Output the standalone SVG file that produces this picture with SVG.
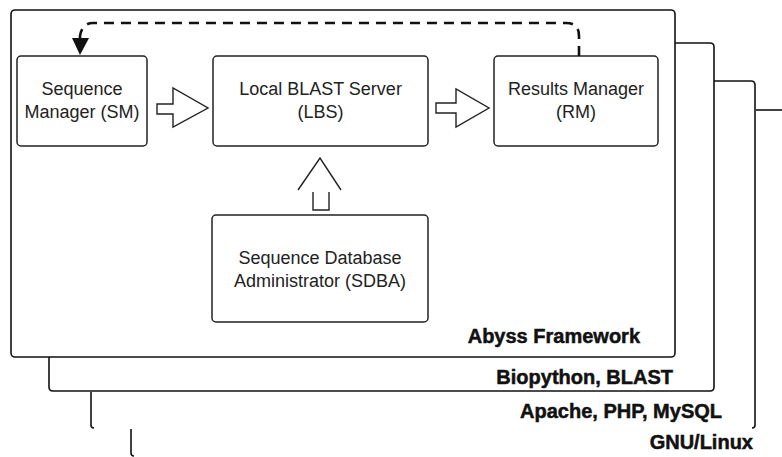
<svg xmlns="http://www.w3.org/2000/svg" width="782" height="457" viewBox="0 0 782 457">
<style>
.frame{fill:#fff;stroke:#111;stroke-width:1.6}
.edge{fill:none;stroke:#111;stroke-width:1.6}
.box{fill:#fff;stroke:#222;stroke-width:1.5}
.lbl{font-family:"Liberation Sans",Arial,sans-serif;font-size:18px;fill:#222;text-anchor:middle}
.layer{font-family:"Liberation Sans",Arial,sans-serif;font-size:20px;font-weight:bold;fill:#111;stroke:#111;stroke-width:0.5;text-anchor:end}
.blk{fill:#fff;stroke:#222;stroke-width:1.4;stroke-linejoin:miter}
.dash{fill:none;stroke:#111;stroke-width:2.6;stroke-dasharray:10 7}
.head{fill:#111}
</style>
<g id="layer-gnu-linux">
<path class="edge" d="M131,429 V453 q0,3 3,3"/>
<path class="edge" d="M756,110 H782"/>
<text class="layer" x="753" y="449">GNU/Linux</text>
</g>
<g id="layer-apache">
<path class="edge" d="M91,392 V425 q0,3 3,3"/>
<path class="edge" d="M714,81 H751 q4,0 4,4 V425 q0,3 -3,3"/>
<text class="layer" x="722" y="418">Apache, PHP, MySQL</text>
</g>
<g id="layer-biopython">
<path class="frame" d="M675,43 H710 q4,0 4,4 V387 q0,4 -4,4 H53 q-4,0 -4,-4 V357"/>
<text class="layer" x="673" y="384">Biopython, BLAST</text>
</g>
<g id="layer-abyss">
<rect class="frame" x="11" y="10" width="664" height="347" rx="4"/>
<text class="layer" x="640" y="343">Abyss Framework</text>
</g>
<g id="SM">
<rect class="box" x="17" y="56" width="130" height="90" rx="4"/>
<text class="lbl" x="82" y="95">Sequence</text>
<text class="lbl" x="82" y="118">Manager (SM)</text>
</g>
<g id="LBS">
<rect class="box" x="213" y="56" width="215" height="90" rx="4"/>
<text class="lbl" x="320.5" y="95">Local BLAST Server</text>
<text class="lbl" x="320.5" y="118">(LBS)</text>
</g>
<g id="RM">
<rect class="box" x="494" y="56" width="164" height="90" rx="4"/>
<text class="lbl" x="576" y="95">Results Manager</text>
<text class="lbl" x="576" y="118">(RM)</text>
</g>
<g id="SDBA">
<rect class="box" x="212" y="215" width="216" height="107" rx="4"/>
<text class="lbl" x="320" y="264">Sequence Database</text>
<text class="lbl" x="320" y="287">Administrator (SDBA)</text>
</g>
<g id="connectors">
<polygon class="blk" points="157,104 173,104 173,88 208,108 173,127 173,114 157,114"/>
<polygon class="blk" points="436,103 456,103 456,89 489,108 456,127 456,113 436,113"/>
<polyline class="blk" points="298,190 320,158 341,190" fill="none"/>
<polyline class="blk" points="313,192 313,210 329,210 329,192" fill="none"/>
<path class="dash" d="M579,56 V36 Q579,23 566,23 H93 Q82,23 80,36 V40"/>
<polygon class="head" points="72,38 89,38 80,55"/>
</g>
</svg>
